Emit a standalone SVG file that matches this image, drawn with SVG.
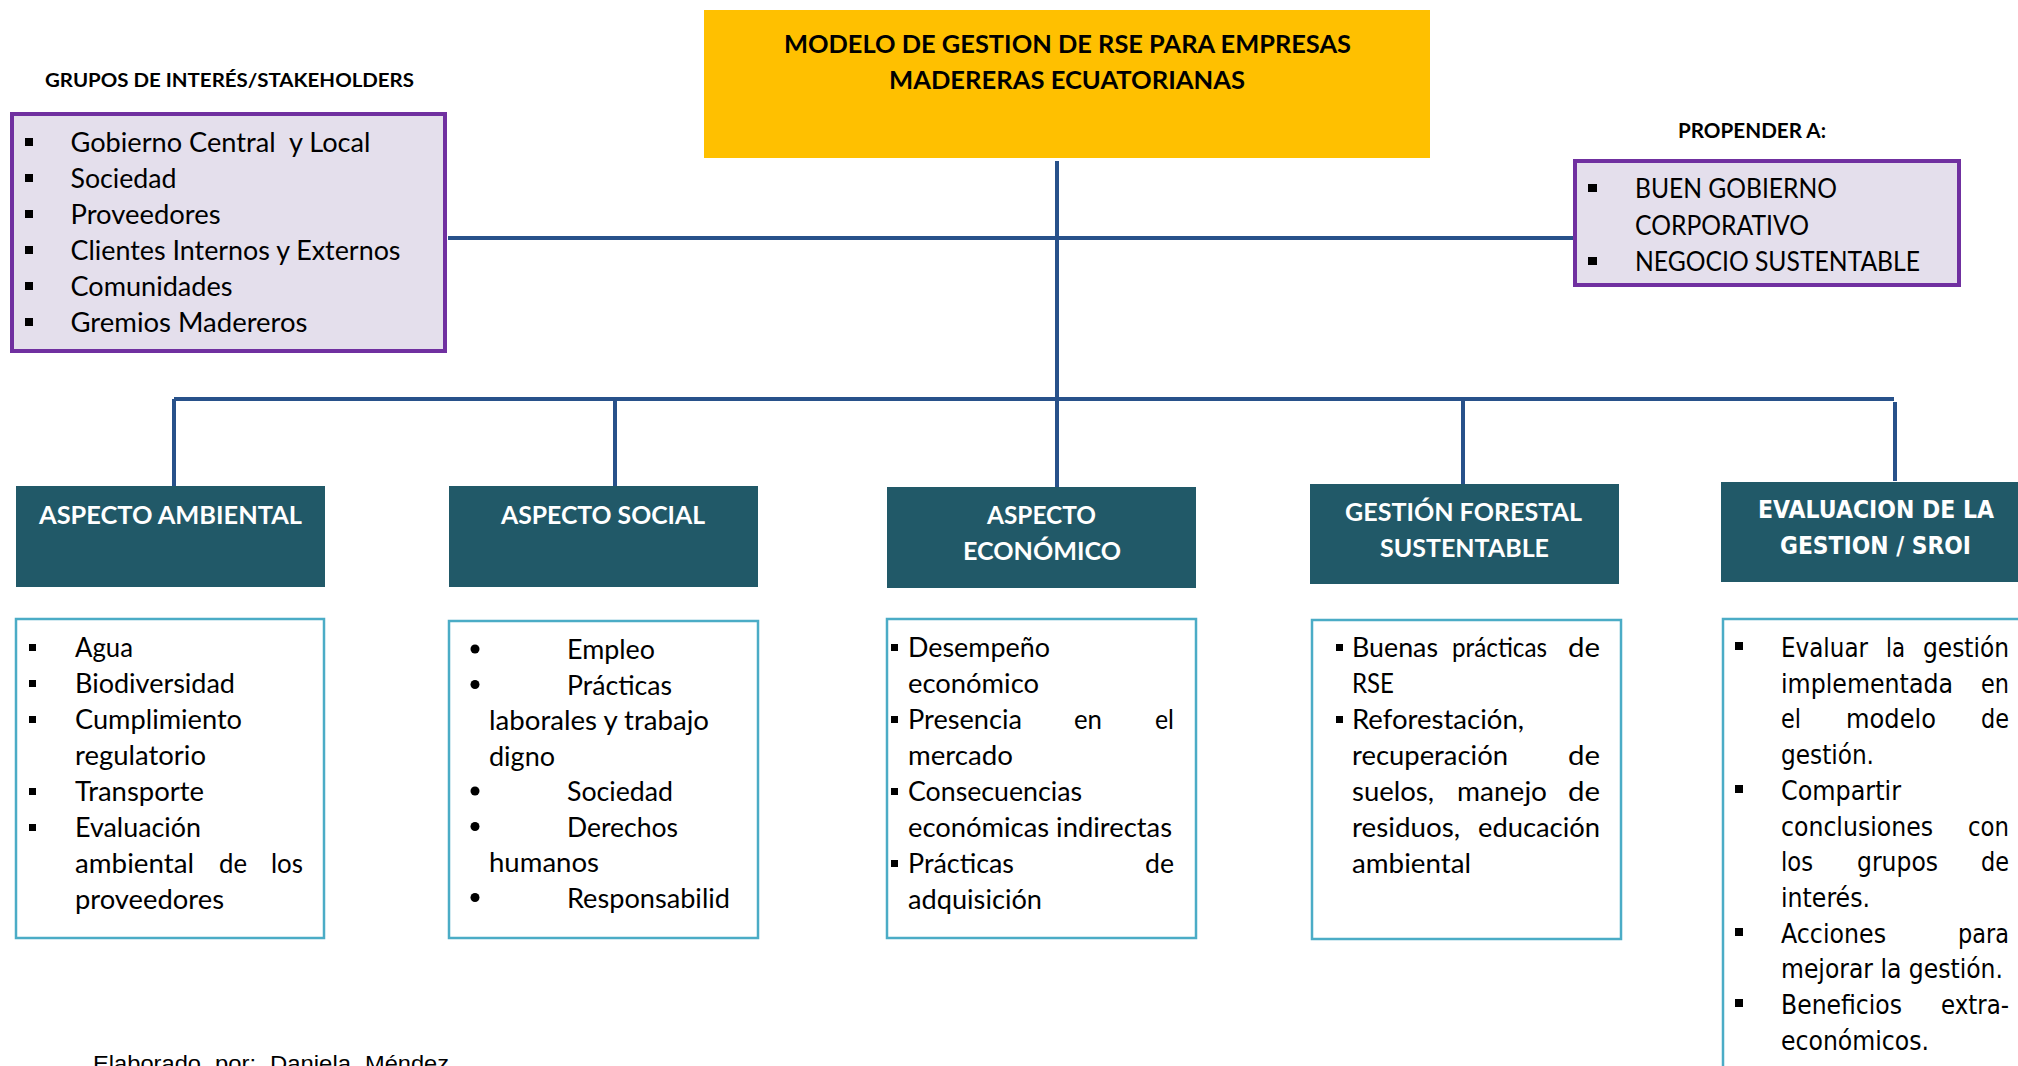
<svg xmlns="http://www.w3.org/2000/svg" width="2018" height="1066" viewBox="0 0 2018 1066">
<style>
.bg{fill:#ffffff}
.conn{stroke:#28518A;stroke-width:4;fill:none}
.hdr{fill:#215968}
.box{fill:#ffffff;stroke:#4BACC6;stroke-width:2.5}
.pbox{fill:#E4DFEC;stroke:#7030A0;stroke-width:4}
.title{fill:#FFC000}
.t{font-family:Lato,"Liberation Sans",sans-serif;font-size:26px;fill:#000}
.tb{font-family:Lato,"Liberation Sans",sans-serif;font-weight:700;fill:#000}
.ht{font-family:Lato,"Liberation Sans",sans-serif;font-weight:700;font-size:25px;fill:#fff}
.ev{font-family:"DejaVu Sans","Liberation Sans",sans-serif;font-size:26px;fill:#000}
.evh{font-family:"DejaVu Sans","Liberation Sans",sans-serif;font-weight:700;font-size:25px;fill:#fff}
.foot{font-family:"Liberation Sans",Arial,sans-serif;font-size:22px;fill:#000}
.sq{fill:#000}
</style>
<rect class="bg" x="0" y="0" width="2018" height="1066"/>

<g id="connectors">
<path class="conn" d="M1057 161V487"/>
<path class="conn" d="M448 238H1574"/>
<path class="conn" d="M174 399H1894"/>
<path class="conn" d="M174 399V486"/>
<path class="conn" d="M615 399V486"/>
<path class="conn" d="M1463 399V484"/>
<path class="conn" d="M1895 402V481"/>
</g>

<g id="node-title">
<rect class="title" x="704" y="10" width="726" height="148"/>
<text class="tb" font-size="25" x="784" y="53" textLength="567" lengthAdjust="spacingAndGlyphs">MODELO DE GESTION DE RSE PARA EMPRESAS</text>
<text class="tb" font-size="25" x="889" y="89" textLength="356" lengthAdjust="spacingAndGlyphs">MADERERAS ECUATORIANAS</text>
</g>

<g id="node-stakeholders">
<text class="tb" font-size="19.5" x="45" y="87" textLength="369" lengthAdjust="spacingAndGlyphs">GRUPOS DE INTERÉS/STAKEHOLDERS</text>
<rect class="pbox" x="12" y="114" width="433" height="237"/>
<rect class="sq" x="25" y="138" width="8" height="8"/>
<rect class="sq" x="25" y="174" width="8" height="8"/>
<rect class="sq" x="25" y="210" width="8" height="8"/>
<rect class="sq" x="25" y="246" width="8" height="8"/>
<rect class="sq" x="25" y="282" width="8" height="8"/>
<rect class="sq" x="25" y="318" width="8" height="8"/>
<text class="t" x="70.5" y="152" textLength="300" lengthAdjust="spacingAndGlyphs" xml:space="preserve">Gobierno Central  y Local</text>
<text class="t" x="70.5" y="188" textLength="106" lengthAdjust="spacingAndGlyphs">Sociedad</text>
<text class="t" x="70.5" y="224" textLength="150" lengthAdjust="spacingAndGlyphs">Proveedores</text>
<text class="t" x="70.5" y="260" textLength="330" lengthAdjust="spacingAndGlyphs">Clientes Internos y Externos</text>
<text class="t" x="70.5" y="296" textLength="162" lengthAdjust="spacingAndGlyphs">Comunidades</text>
<text class="t" x="70.5" y="332" textLength="237" lengthAdjust="spacingAndGlyphs">Gremios Madereros</text>
</g>

<g id="node-propender">
<text class="tb" font-size="21" x="1678" y="138" textLength="148" lengthAdjust="spacingAndGlyphs">PROPENDER A:</text>
<rect class="pbox" x="1575" y="161" width="384" height="124"/>
<rect class="sq" x="1588" y="184" width="9" height="8"/>
<rect class="sq" x="1588" y="257" width="9" height="8"/>
<text class="t" font-size="25" x="1635" y="198" textLength="202" lengthAdjust="spacingAndGlyphs">BUEN GOBIERNO</text>
<text class="t" font-size="25" x="1635" y="235" textLength="174" lengthAdjust="spacingAndGlyphs">CORPORATIVO</text>
<text class="t" font-size="25" x="1635" y="271" textLength="285" lengthAdjust="spacingAndGlyphs">NEGOCIO SUSTENTABLE</text>
</g>

<g id="node-ambiental">
<rect class="hdr" x="16" y="486" width="309" height="101"/>
<text class="ht" x="39" y="524" textLength="263" lengthAdjust="spacingAndGlyphs">ASPECTO AMBIENTAL</text>
<rect class="box" x="16" y="619" width="308" height="319"/>
<rect class="sq" x="29" y="644" width="7" height="7"/>
<rect class="sq" x="29" y="680" width="7" height="7"/>
<rect class="sq" x="29" y="716" width="7" height="7"/>
<rect class="sq" x="29" y="788" width="7" height="7"/>
<rect class="sq" x="29" y="824" width="7" height="7"/>
<text class="t" x="75" y="657" textLength="58" lengthAdjust="spacingAndGlyphs">Agua</text>
<text class="t" x="75" y="693" textLength="160" lengthAdjust="spacingAndGlyphs">Biodiversidad</text>
<text class="t" x="75" y="729" textLength="167" lengthAdjust="spacingAndGlyphs">Cumplimiento</text>
<text class="t" x="75" y="765" textLength="131" lengthAdjust="spacingAndGlyphs">regulatorio</text>
<text class="t" x="75" y="801" textLength="129" lengthAdjust="spacingAndGlyphs">Transporte</text>
<text class="t" x="75" y="837" textLength="126" lengthAdjust="spacingAndGlyphs">Evaluación</text>
<text class="t" x="75" y="873" textLength="119" lengthAdjust="spacingAndGlyphs">ambiental</text>
<text class="t" x="219" y="873" textLength="28" lengthAdjust="spacingAndGlyphs">de</text>
<text class="t" x="271" y="873" textLength="32" lengthAdjust="spacingAndGlyphs">los</text>
<text class="t" x="75" y="909" textLength="149" lengthAdjust="spacingAndGlyphs">proveedores</text>
</g>

<g id="node-social">
<rect class="hdr" x="449" y="486" width="309" height="101"/>
<text class="ht" x="501" y="524" textLength="204" lengthAdjust="spacingAndGlyphs">ASPECTO SOCIAL</text>
<rect class="box" x="449" y="621" width="309" height="317"/>
<circle class="sq" cx="475" cy="649" r="4.5"/>
<circle class="sq" cx="475" cy="684.5" r="4.5"/>
<circle class="sq" cx="475" cy="791" r="4.5"/>
<circle class="sq" cx="475" cy="826.5" r="4.5"/>
<circle class="sq" cx="475" cy="897.5" r="4.5"/>
<text class="t" x="567" y="659" textLength="88" lengthAdjust="spacingAndGlyphs">Empleo</text>
<text class="t" x="567" y="694.5" textLength="105" lengthAdjust="spacingAndGlyphs">Prácticas</text>
<text class="t" x="489" y="730" textLength="220" lengthAdjust="spacingAndGlyphs">laborales y trabajo</text>
<text class="t" x="489" y="765.5" textLength="66" lengthAdjust="spacingAndGlyphs">digno</text>
<text class="t" x="567" y="801" textLength="106" lengthAdjust="spacingAndGlyphs">Sociedad</text>
<text class="t" x="567" y="836.5" textLength="111" lengthAdjust="spacingAndGlyphs">Derechos</text>
<text class="t" x="489" y="872" textLength="110" lengthAdjust="spacingAndGlyphs">humanos</text>
<text class="t" x="567" y="907.5" textLength="163" lengthAdjust="spacingAndGlyphs">Responsabilid</text>
</g>

<g id="node-economico">
<rect class="hdr" x="887" y="487" width="309" height="101"/>
<text class="ht" x="987" y="524" textLength="109" lengthAdjust="spacingAndGlyphs">ASPECTO</text>
<text class="ht" x="963" y="560" textLength="158" lengthAdjust="spacingAndGlyphs">ECONÓMICO</text>
<rect class="box" x="887" y="619" width="309" height="319"/>
<rect class="sq" x="891" y="644" width="7" height="7"/>
<rect class="sq" x="891" y="716" width="7" height="7"/>
<rect class="sq" x="891" y="788" width="7" height="7"/>
<rect class="sq" x="891" y="860" width="7" height="7"/>
<text class="t" x="908" y="657" textLength="142" lengthAdjust="spacingAndGlyphs">Desempeño</text>
<text class="t" x="908" y="693" textLength="131" lengthAdjust="spacingAndGlyphs">económico</text>
<text class="t" x="908" y="729" textLength="114" lengthAdjust="spacingAndGlyphs">Presencia</text>
<text class="t" x="1074" y="729" textLength="28" lengthAdjust="spacingAndGlyphs">en</text>
<text class="t" x="1155" y="729" textLength="19" lengthAdjust="spacingAndGlyphs">el</text>
<text class="t" x="908" y="765" textLength="105" lengthAdjust="spacingAndGlyphs">mercado</text>
<text class="t" x="908" y="801" textLength="174" lengthAdjust="spacingAndGlyphs">Consecuencias</text>
<text class="t" x="908" y="837" textLength="264" lengthAdjust="spacingAndGlyphs">económicas indirectas</text>
<text class="t" x="908" y="873" textLength="106" lengthAdjust="spacingAndGlyphs">Prácticas</text>
<text class="t" x="1145" y="873" textLength="29" lengthAdjust="spacingAndGlyphs">de</text>
<text class="t" x="908" y="909" textLength="134" lengthAdjust="spacingAndGlyphs">adquisición</text>
</g>

<g id="node-forestal">
<rect class="hdr" x="1310" y="484" width="309" height="100"/>
<text class="ht" x="1345" y="521" textLength="237" lengthAdjust="spacingAndGlyphs">GESTIÓN FORESTAL</text>
<text class="ht" x="1380" y="557" textLength="169" lengthAdjust="spacingAndGlyphs">SUSTENTABLE</text>
<rect class="box" x="1312" y="620" width="309" height="319"/>
<rect class="sq" x="1336" y="644" width="7" height="7"/>
<rect class="sq" x="1336" y="716" width="7" height="7"/>
<text class="t" x="1352" y="657" textLength="86" lengthAdjust="spacingAndGlyphs">Buenas</text>
<text class="t" x="1452" y="657" textLength="95" lengthAdjust="spacingAndGlyphs">prácticas</text>
<text class="t" x="1568" y="657" textLength="32" lengthAdjust="spacingAndGlyphs">de</text>
<text class="t" x="1352" y="693" textLength="42" lengthAdjust="spacingAndGlyphs">RSE</text>
<text class="t" x="1352" y="729" textLength="172" lengthAdjust="spacingAndGlyphs">Reforestación,</text>
<text class="t" x="1352" y="765" textLength="156" lengthAdjust="spacingAndGlyphs">recuperación</text>
<text class="t" x="1568" y="765" textLength="32" lengthAdjust="spacingAndGlyphs">de</text>
<text class="t" x="1352" y="801" textLength="82" lengthAdjust="spacingAndGlyphs">suelos,</text>
<text class="t" x="1457" y="801" textLength="90" lengthAdjust="spacingAndGlyphs">manejo</text>
<text class="t" x="1568" y="801" textLength="32" lengthAdjust="spacingAndGlyphs">de</text>
<text class="t" x="1352" y="837" textLength="108" lengthAdjust="spacingAndGlyphs">residuos,</text>
<text class="t" x="1478" y="837" textLength="122" lengthAdjust="spacingAndGlyphs">educación</text>
<text class="t" x="1352" y="873" textLength="119" lengthAdjust="spacingAndGlyphs">ambiental</text>
</g>

<g id="node-evaluacion">
<rect class="hdr" x="1721" y="482" width="300" height="100"/>
<text class="evh" x="1758" y="518" textLength="236" lengthAdjust="spacingAndGlyphs">EVALUACION DE LA</text>
<text class="evh" x="1780" y="554" textLength="191" lengthAdjust="spacingAndGlyphs">GESTION / SROI</text>
<rect class="box" x="1723" y="619" width="310" height="470"/>
<rect class="sq" x="1735" y="642" width="8" height="8"/>
<rect class="sq" x="1735" y="785" width="8" height="8"/>
<rect class="sq" x="1735" y="928" width="8" height="8"/>
<rect class="sq" x="1735" y="999" width="8" height="8"/>
<text class="ev" x="1781" y="657" textLength="87" lengthAdjust="spacingAndGlyphs">Evaluar</text>
<text class="ev" x="1886" y="657" textLength="19" lengthAdjust="spacingAndGlyphs">la</text>
<text class="ev" x="1923" y="657" textLength="86" lengthAdjust="spacingAndGlyphs">gestión</text>
<text class="ev" x="1781" y="692.7" textLength="172" lengthAdjust="spacingAndGlyphs">implementada</text>
<text class="ev" x="1981" y="692.7" textLength="28" lengthAdjust="spacingAndGlyphs">en</text>
<text class="ev" x="1781" y="728.4" textLength="20" lengthAdjust="spacingAndGlyphs">el</text>
<text class="ev" x="1846" y="728.4" textLength="90" lengthAdjust="spacingAndGlyphs">modelo</text>
<text class="ev" x="1981" y="728.4" textLength="28" lengthAdjust="spacingAndGlyphs">de</text>
<text class="ev" x="1781" y="764.1" textLength="93" lengthAdjust="spacingAndGlyphs">gestión.</text>
<text class="ev" x="1781" y="799.8" textLength="120" lengthAdjust="spacingAndGlyphs">Compartir</text>
<text class="ev" x="1781" y="835.5" textLength="152" lengthAdjust="spacingAndGlyphs">conclusiones</text>
<text class="ev" x="1968" y="835.5" textLength="41" lengthAdjust="spacingAndGlyphs">con</text>
<text class="ev" x="1781" y="871.2" textLength="32" lengthAdjust="spacingAndGlyphs">los</text>
<text class="ev" x="1857" y="871.2" textLength="81" lengthAdjust="spacingAndGlyphs">grupos</text>
<text class="ev" x="1981" y="871.2" textLength="28" lengthAdjust="spacingAndGlyphs">de</text>
<text class="ev" x="1781" y="906.9" textLength="89" lengthAdjust="spacingAndGlyphs">interés.</text>
<text class="ev" x="1781" y="942.6" textLength="105" lengthAdjust="spacingAndGlyphs">Acciones</text>
<text class="ev" x="1958" y="942.6" textLength="51" lengthAdjust="spacingAndGlyphs">para</text>
<text class="ev" x="1781" y="978.3" textLength="222" lengthAdjust="spacingAndGlyphs">mejorar la gestión.</text>
<text class="ev" x="1781" y="1014" textLength="121" lengthAdjust="spacingAndGlyphs">Beneficios</text>
<text class="ev" x="1941" y="1014" textLength="68" lengthAdjust="spacingAndGlyphs">extra-</text>
<text class="ev" x="1781" y="1049.7" textLength="148" lengthAdjust="spacingAndGlyphs">económicos.</text>
</g>

<g id="footer">
<text class="foot" x="93" y="1071" textLength="108" lengthAdjust="spacingAndGlyphs">Elaborado</text>
<text class="foot" x="215" y="1071" textLength="41" lengthAdjust="spacingAndGlyphs">por:</text>
<text class="foot" x="270" y="1071" textLength="81" lengthAdjust="spacingAndGlyphs">Daniela</text>
<text class="foot" x="365" y="1071" textLength="84" lengthAdjust="spacingAndGlyphs">Méndez</text>
</g>
</svg>
